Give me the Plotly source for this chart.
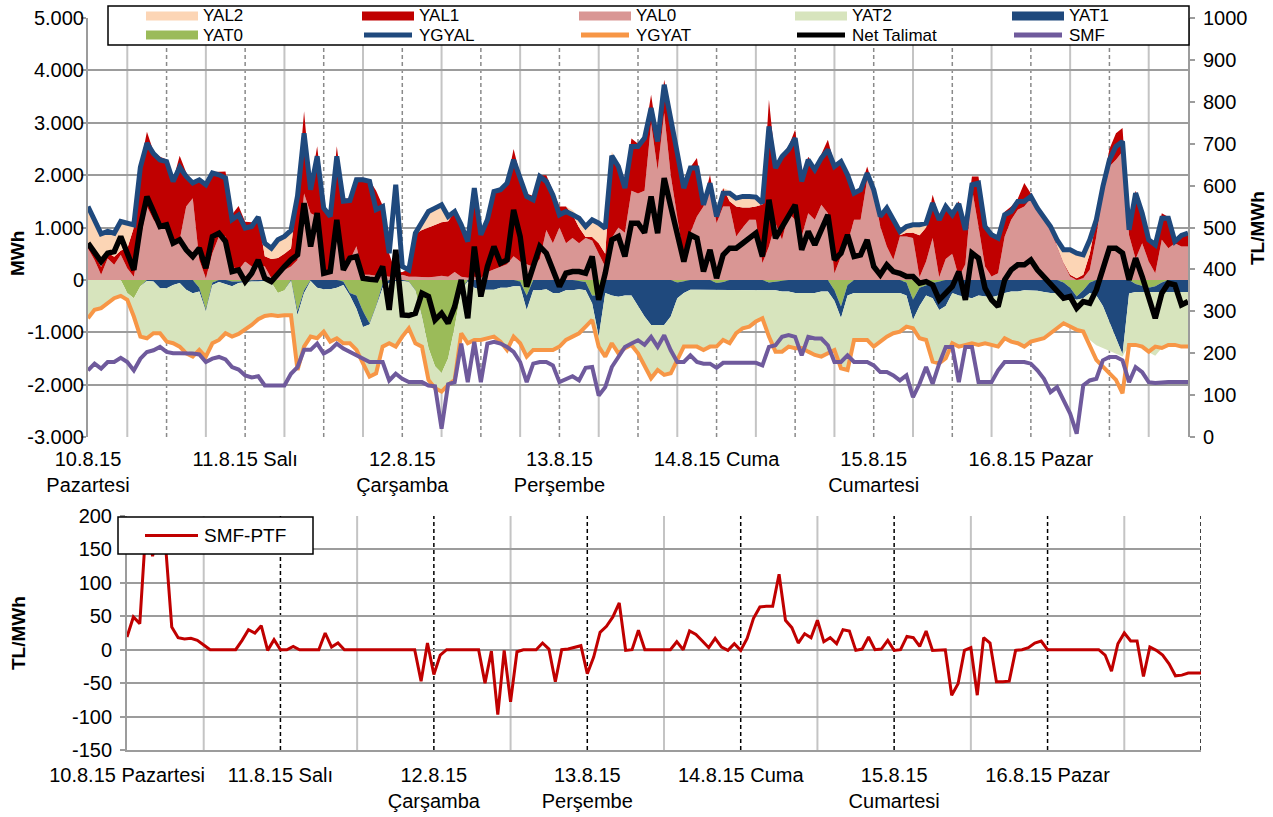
import plotly.graph_objects as go

# ---------------- DATA (hourly, 10.8.15 00:00 .. 17.8.15 00:00) ----------------
HOURS = list(range(169))

DAY_TICKS = [0, 24, 48, 72, 96, 120, 144]
TOP_DAY_LABELS = ["10.8.15<br>Pazartesi", "11.8.15 Salı", "12.8.15<br>Çarşamba",
                  "13.8.15<br>Perşembe", "14.8.15 Cuma", "15.8.15<br>Cumartesi", "16.8.15 Pazar"]
BOT_DAY_LABELS = ["10.8.15 Pazartesi", "11.8.15 Salı", "12.8.15<br>Çarşamba",
                  "13.8.15<br>Perşembe", "14.8.15 Cuma", "15.8.15<br>Cumartesi", "16.8.15 Pazar"]

MWH_TICKS = [-3000, -2000, -1000, 0, 1000, 2000, 3000, 4000, 5000]
MWH_LABELS = ["-3.000", "-2.000", "-1.000", "0", "1.000", "2.000", "3.000", "4.000", "5.000"]
TL_TICKS = [0, 100, 200, 300, 400, 500, 600, 700, 800, 900, 1000]
TL_LABELS = ["0", "100", "200", "300", "400", "500", "600", "700", "800", "900", "1000"]
DIFF_TICKS = [-150, -100, -50, 0, 50, 100, 150, 200]
DIFF_LABELS = ["-150", "-100", "-50", "0", "50", "100", "150", "200"]

YAL0 = [600, 380, 100, 410, 290, 480, 220, 60, 760, 1400,
        1150, 1020, 950, 700, 760, 1400, 1560, 380, 30, 510,
        830, 830, 255, 190, 350, 255, 290, 255, 30, 130,
        190, 255, 380, 1650, 1270, 1210, 130, 160, 760, 255,
        380, 640, 100, 100, 80, 80, 60, 50, 100, 60,
        60, 50, 50, 60, 80, 60, 150, 60, 40, 60,
        30, 150, 200, 250, 300, 450, 350, 300, 250, 400,
        950, 700, 1000, 700, 800, 700, 800, 750, 500, 250,
        800, 1000, 900, 1700, 1650, 1700, 2990, 2100, 3185, 2000,
        1200, 382, 900, 1210, 1400, 1800, 1083, 1401, 1400, 828,
        1000, 1147, 1147, 318, 637, 1083, 764, 1274, 1147, 828,
        1274, 1147, 1433, 1274, 127, 446, 700, 1147, 1147, 1911,
        1720, 1019, 637, 382, 828, 828, 800, 50, 350, 800,
        50, 400, 500, 50, 300, 1750, 1019, 255, 64, 127,
        828, 1147, 1338, 1400, 1560, 1300, 1147, 955, 637, 318,
        64, 0, 32, 191, 828, 1720, 2166, 2293, 2452, 850,
        400, 700, 350, 127, 764, 605, 700, 637, 637]

YAL1 = [100, 100, 150, 110, 150, 80, 380, 940, 1440, 1430,
        1300, 1330, 1350, 1200, 1610, 650, 320, 1540, 1800, 1550,
        1230, 1240, 995, 1220, 760, 845, 910, 195, 370, 290,
        310, 345, 1320, 1570, 530, 1340, 1290, 1100, 1790, 1295,
        1180, 1310, 1850, 1800, 1620, 1340, 440, 80, 50, 140,
        820, 900, 950, 990, 1020, 1060, 1150, 990, 700, 1690,
        830, 1000, 1490, 1490, 1580, 2050, 1650, 1350, 1350, 1600,
        1050, 1000, 400, 700, 450, 300, 20, 70, 200, 250,
        1600, 1150, 850, 1000, 950, 1050, 545, 600, 637, 1150,
        1250, 1418, 1250, 1115, 100, 206, 167, 351, 100, 572,
        380, 233, 253, 1122, 2803, 1117, 1636, 1276, 1720, 1122,
        1076, 1003, 967, 1401, 2073, 1854, 1350, 553, 603, 255,
        30, 231, 763, 768, 22, 72, 100, 800, 650, 824,
        1150, 1050, 800, 1450, 700, 225, 956, 795, 836, 693,
        472, 253, 212, 450, 90, 100, 103, 95, 13, 12,
        36, 30, 68, 309, 322, 130, 334, 507, 446, 200,
        1300, 600, 450, 573, 510, 595, 50, 243, 263]

YAL2 = [700, 670, 630, 405, 450, 555, 485, 50, 0, 0,
        0, 0, 0, 0, 0, 0, 0, 0, 0, 0,
        0, 0, 0, 0, 0, 0, 0, 270, 220, 360,
        340, 360, 0, 0, 0, 0, 0, 0, 0, 0,
        0, 0, 0, 0, 0, 0, 0, 0, 0, 0,
        12, 133, 306, 320, 333, 90, 6, 0, 0, 0,
        0, 0, 0, 0, 0, 0, 0, 0, 0, 0,
        0, 0, 0, 0, 80, 200, 230, 330, 400, 500,
        50, 16, 0, 0, 0, 0, 0, 0, 0, 0,
        0, 0, 0, 0, 0, 0, 0, 0, 200, 200,
        240, 260, 200, 30, 0, 0, 0, 0, 0, 0,
        0, 0, 0, 0, 0, 0, 0, 0, 0, 0,
        0, 0, 0, 0, 74, 119, 151, 201, 83, 0,
        0, 0, 0, 0, 0, 0, 0, 0, 0, 0,
        0, 0, 0, 0, 0, 0, 0, 0, 114, 243,
        473, 480, 378, 264, 0, 0, 0, 0, 0, 0,
        0, 0, 0, 0, 0, 0, 0, 0, 0]

YAT0 = [0, 0, 0, 0, 0, 0, -250, -350, -120, 0,
        0, 0, 0, 0, 0, 0, 0, -150, -570, -50,
        0, 0, -30, -30, -20, 0, 0, 0, -50, -250,
        -200, 0, -600, -200, 0, 0, 0, 0, 0, -30,
        -250, -300, -600, -830, -500, -80, 0, 0, 0, -30,
        -200, -700, -1300, -1650, -1780, -1500, -900, -200, 0, 0,
        0, 0, 0, 0, 0, 0, -30, -300, 0, 0,
        0, 0, 0, 0, 0, -20, -40, -300, -300, 0,
        0, 0, 0, 0, 0, 0, 0, 0, 0, 0,
        -50, -30, 0, 0, 0, 0, -60, -40, 0, 0,
        0, 0, 0, 0, -50, -30, -20, 0, 0, 0,
        0, 0, 0, 0, -200, -510, -100, 0, 0, 0,
        0, 0, 0, 0, 0, -50, -380, -150, -100, -60,
        -30, 0, 0, 0, 0, 0, 0, 0, 0, 0,
        0, 0, 0, 0, 0, 0, 0, 0, 0, -50,
        -150, -318, -200, -50, 0, 0, 0, 0, 0, 0,
        -80, -120, -150, -120, -50, 0, 0, 0, 0]

YAT1 = [0, 0, 0, 0, 0, 0, 0, 0, 0, -20,
        -30, -160, -160, -100, -60, -190, -255, -73, -30, -50,
        -40, -80, -90, -30, -20, -30, -30, -20, 0, 0,
        0, -20, -70, -50, -20, -150, -180, -180, -150, -70,
        -50, -250, -300, -20, -20, -70, -60, -20, -20, -10,
        -10, -10, 0, 0, 0, 0, 0, 0, -30, -150,
        -190, -190, -190, -150, -150, -120, -90, -273, -200, -200,
        -180, -250, -250, -200, -200, -160, -160, -150, -783, -250,
        -300, -320, -300, -300, -500, -700, -860, -860, -860, -700,
        -300, -220, -190, -190, -190, -200, -140, -160, -200, -200,
        -200, -200, -200, -200, -150, -170, -200, -220, -250, -250,
        -250, -250, -220, -220, -200, -220, -200, -250, -250, -250,
        -250, -250, -250, -250, -250, -250, -380, -350, -200, -290,
        -543, -500, -250, -300, -318, -350, -300, -320, -330, -300,
        -250, -220, -220, -200, -200, -210, -230, -250, -250, -250,
        -200, -62, -150, -200, -300, -500, -800, -1100, -1420, -260,
        -150, -110, -80, -110, -180, -230, -230, -230, -230]

YAT2 = [-700, -560, -540, -450, -350, -310, -150, -350, -930, -1080,
        -1020, -890, -990, -1100, -1190, -1160, -1145, -1077, -800, -1100,
        -1080, -920, -930, -960, -910, -820, -720, -670, -620, -440,
        -480, -660, -980, -1000, -1060, -950, -810, -970, -950, -1100,
        -900, -780, -700, -950, -1230, -1100, -1140, -1230, -1060, -910,
        -990, -560, -600, -400, -340, -500, -1000, -830, -1170, -1000,
        -960, -910, -890, -1020, -1170, -960, -1080, -877, -1130, -1130,
        -1150, -1080, -1020, -950, -880, -840, -700, -330, -167, -1150,
        -900, -1060, -1000, -940, -900, -950, -990, -860, -940, -1080,
        -1170, -1020, -1080, -1080, -1140, -1070, -1070, -950, -1000, -820,
        -720, -690, -600, -530, -880, -1150, -1130, -1050, -1050, -1050,
        -1110, -1170, -1230, -1180, -930, -920, -1400, -900, -900, -900,
        -1020, -920, -830, -770, -740, -600, -170, -600, -850, -1200,
        -1007, -980, -950, -960, -922, -850, -940, -880, -910, -970,
        -860, -950, -980, -1070, -970, -930, -880, -760, -670, -530,
        -540, -570, -630, -900, -950, -800, -550, -300, -45, -980,
        -1010, -1040, -1150, -1220, -1070, -1010, -1010, -1040, -1040]

YGYAL = [1400, 1150, 880, 925, 890, 1115, 1085, 1050, 2150, 2610,
         2410, 2290, 2260, 1880, 2150, 1975, 1850, 1910, 1815, 2040,
         2005, 1945, 1150, 1240, 990, 1020, 1200, 700, 605, 765,
         830, 945, 1600, 2800, 1720, 2360, 1370, 1210, 2360, 1500,
         1515, 1910, 1910, 1880, 1340, 1400, 510, 1815, 255, 190,
         890, 1083, 1306, 1370, 1433, 1210, 1306, 1051, 732, 1752,
         860, 1147, 1688, 1720, 1847, 2293, 1975, 1592, 1529, 1975,
         1879, 1624, 1242, 1306, 1242, 1178, 1019, 1147, 1083, 987,
         2369, 2166, 1752, 2548, 2548, 2707, 3280, 2643, 3727, 3121,
         2420, 1752, 2134, 2134, 1433, 1847, 1210, 1656, 1656, 1561,
         1593, 1593, 1580, 1465, 2930, 2134, 2357, 2484, 2707, 1879,
         2293, 2102, 2325, 2484, 2166, 2261, 2006, 1656, 1720, 2038,
         1720, 1210, 1370, 1147, 924, 1019, 1051, 1051, 1083, 1465,
         1147, 1401, 1242, 1452, 955, 1815, 1847, 1019, 860, 796,
         1242, 1306, 1497, 1500, 1593, 1370, 1210, 1019, 764, 573,
         573, 510, 478, 764, 1147, 1784, 2293, 2548, 2643, 955,
         1656, 1274, 764, 669, 1178, 1178, 733, 850, 892]

YGYAT = [-733, -573, -541, -446, -350, -306, -382, -700, -1083, -1115,
         -1019, -1019, -1178, -1210, -1274, -1401, -1465, -1338, -1465, -1210,
         -1147, -1019, -1083, -1032, -955, -860, -752, -688, -669, -688,
         -675, -675, -1720, -1274, -1083, -1115, -987, -1178, -1115, -1210,
         -1210, -1338, -1593, -1847, -1784, -1274, -1210, -1274, -1083, -924,
         -1210, -1274, -1911, -2070, -2134, -2006, -1911, -1019, -1210, -1147,
         -1147, -1115, -1083, -1178, -1338, -1083, -1210, -1465, -1338, -1338,
         -1338, -1338, -1274, -1147, -1083, -1019, -892, -764, -1274, -1465,
         -1210, -1401, -1306, -1242, -1401, -1656, -1879, -1720, -1815, -1784,
         -1529, -1274, -1274, -1274, -1338, -1274, -1274, -1147, -1210, -1019,
         -924, -892, -796, -733, -1083, -1370, -1370, -1274, -1306, -1300,
         -1370, -1433, -1465, -1401, -1338, -1688, -1720, -1147, -1147, -1147,
         -1274, -1178, -1083, -1019, -987, -892, -924, -1115, -1147, -1561,
         -1593, -1497, -1210, -1274, -1242, -1210, -1242, -1210, -1242, -1274,
         -1115, -1178, -1210, -1274, -1178, -1147, -1115, -1019, -924, -828,
         -892, -955, -987, -1274, -1529, -1656, -1784, -1911, -2166, -1242,
         -1242, -1274, -1370, -1274, -1300, -1242, -1242, -1274, -1274]

NET_TALIMAT = [700, 540, 350, 510, 540, 828, 510, 190, 1020, 1590,
               1306, 1019, 1051, 700, 764, 573, 446, 605, 223, 828,
               892, 733, 159, 191, -32, 127, 382, 32, -32, 127,
               255, 382, 478, 1465, 637, 1274, 127, 159, 1147, 191,
               414, 446, 32, 13, 0, 255, -573, 573, -669, -680,
               -637, -255, -318, -764, -637, -828, -510, 0, -733, 637,
               -318, 255, 637, 318, 382, 1338, 828, -127, 255, 637,
               510, 159, -127, 127, 159, 159, 127, 446, -382, 127,
               764, 828, 446, 1083, 1083, 900, 1593, 892, 1943, 1401,
               828, 350, 860, 796, 159, 573, 32, 478, 605, 605,
               700, 796, 892, 446, 1529, 796, 1019, 1242, 1433, 573,
               924, 669, 955, 1242, 382, 510, 860, 446, 478, 764,
               255, 96, 287, 159, 127, 64, 64, -64, -32, -96,
               -382, -255, -127, 159, -382, 510, 414, -159, -382, -510,
               0, 191, 287, 287, 382, 191, 64, -64, -223, -350,
               -318, -541, -414, -446, -191, 255, 605, 605, 510, 0,
               414, 64, -318, -733, -255, -64, -96, -478, -414]

SMF = [159, 175, 163, 179, 179, 189, 179, 159, 187, 203,
       207, 215, 203, 200, 200, 200, 199, 197, 179, 187,
       191, 185, 167, 161, 147, 142, 145, 123, 123, 123,
       123, 151, 167, 208, 208, 223, 199, 208, 223, 211,
       203, 197, 187, 179, 179, 179, 135, 151, 139, 131,
       131, 131, 123, 121, 20, 126, 131, 223, 131, 227,
       131, 223, 227, 223, 215, 203, 179, 131, 175, 179,
       179, 171, 131, 139, 145, 135, 165, 167, 99, 119,
       167, 191, 215, 223, 231, 220, 239, 215, 243, 207,
       179, 179, 195, 179, 175, 175, 165, 177, 177, 177,
       177, 177, 177, 171, 215, 219, 239, 243, 239, 195,
       239, 235, 235, 219, 179, 179, 195, 179, 179, 179,
       171, 155, 155, 147, 135, 147, 95, 127, 167, 127,
       175, 215, 215, 131, 215, 215, 131, 131, 131, 159,
       179, 179, 179, 179, 175, 159, 139, 107, 119, 88,
       56, 8, 123, 135, 139, 183, 191, 191, 183, 131,
       167, 155, 131, 129, 131, 131, 131, 131, 131]

SMF_PTF = [19, 49, 39, 190, 140, 185, 160, 34, 18, 16,
           17, 14, 7, 0, 0, 0, 0, 0, 14, 30,
           25, 36, -1, 15, 0, 0, 5, 0, 0, 0,
           0, 25, 4, 10, 0, 0, 0, 0, 0, 0,
           0, 0, 0, 0, 0, 0, -47, 10, -37, -8,
           0, 0, 0, 0, 0, 0, -50, -2, -97, -1,
           -78, -3, 0, 0, 0, 10, 1, -48, 0, 1,
           4, 6, -36, -11, 26, 35, 49, 70, -1, 0,
           29, 0, 0, 0, 0, 0, 12, 0, 28, 23,
           13, 3, 17, 4, -1, 9, -1, 17, 47, 64,
           65, 65, 113, 44, 33, 10, 24, 18, 44, 12,
           18, 9, 30, 28, -1, 1, 19, 0, 1, 14,
           -1, 0, 20, 18, 5, 28, -1, 0, 0, -68,
           -51, -1, 3, -68, 18, 10, -48, -48, -47, -1,
           0, 3, 10, 13, 0, 0, 0, 0, 0, 0,
           0, 0, 0, -8, -32, 9, 25, 13, 13, -40,
           4, -1, -8, -21, -39, -38, -35, -35, -35]

for _s in (YAL0, YAL1, YAL2, YAT0, YAT1, YAT2, YGYAL, YGYAT, NET_TALIMAT, SMF, SMF_PTF):
    assert len(_s) == len(HOURS), len(_s)

# ---------------- STYLE ----------------
W, H = 1273, 817
FONT = "Liberation Sans, Arial, sans-serif"
C = {
    "YAL2": "#FCD5B5", "YAL1": "#C00000", "YAL0": "#D99694",
    "YAT2": "#D7E4BD", "YAT1": "#1F497D", "YAT0": "#9BBB59",
    "YGYAL": "#1F497D", "YGYAT": "#F79646", "Net Talimat": "#000000",
    "SMF": "#6F5A9C", "SMF-PTF": "#C00000",
}
GRID = "#9C9C9C"
LIGHT = "#C4C4C4"


def fx(p):
    return p / W


def fy(p):
    return 1 - p / H


fig = go.Figure()

# stacked areas
for name, vals, grp in [("YAL0", YAL0, "pos"), ("YAL1", YAL1, "pos"), ("YAL2", YAL2, "pos"),
                        ("YAT0", YAT0, "neg"), ("YAT1", YAT1, "neg"), ("YAT2", YAT2, "neg")]:
    fig.add_trace(go.Scatter(x=HOURS, y=vals, name=name, mode="lines", stackgroup=grp,
                             line=dict(width=0, color=C[name]), fillcolor=C[name],
                             xaxis="x", yaxis="y", hoverinfo="skip", showlegend=False))

# lines on MWh axis
for name, vals, w in [("YGYAL", YGYAL, 5), ("YGYAT", YGYAT, 4), ("Net Talimat", NET_TALIMAT, 5.5)]:
    fig.add_trace(go.Scatter(x=HOURS, y=vals, name=name, mode="lines",
                             line=dict(width=w, color=C[name]),
                             xaxis="x", yaxis="y", hoverinfo="skip", showlegend=False))

# SMF on TL/MWh axis
fig.add_trace(go.Scatter(x=HOURS, y=SMF, name="SMF", mode="lines",
                         line=dict(width=4, color=C["SMF"]),
                         xaxis="x", yaxis="y2", hoverinfo="skip", showlegend=False))

# bottom chart
fig.add_trace(go.Scatter(x=HOURS, y=SMF_PTF, name="SMF-PTF", mode="lines",
                         line=dict(width=3, color=C["SMF-PTF"]),
                         xaxis="x2", yaxis="y3", hoverinfo="skip", showlegend=False))

shapes = []
# vertical grid of the top chart
for h in range(6, 168, 12):
    shapes.append(dict(type="line", xref="x", yref="y", x0=h, x1=h, y0=-3000, y1=5000,
                       line=dict(color=LIGHT, width=2), layer="below"))
for h in range(12, 168, 12):
    shapes.append(dict(type="line", xref="x", yref="y", x0=h, x1=h, y0=-3000, y1=5000,
                       line=dict(color="#8A8A8A", width=1.5, dash="4px,3px"), layer="below"))
# vertical grid of the bottom chart
for h in range(12, 168, 24):
    shapes.append(dict(type="line", xref="x2", yref="y3", x0=h, x1=h, y0=-150, y1=200,
                       line=dict(color=LIGHT, width=2), layer="below"))
for h in range(24, 169, 24):
    shapes.append(dict(type="line", xref="x2", yref="y3", x0=h, x1=h, y0=-150, y1=200,
                       line=dict(color="#000000", width=1.5, dash="4px,3px"), layer="below"))

annotations = []

# ---- top legend (manual, 5 columns x 2 rows) ----
shapes.append(dict(type="rect", xref="paper", yref="paper", x0=fx(108), x1=fx(1189),
                   y0=fy(45), y1=fy(6), fillcolor="white", line=dict(color="black", width=1.5),
                   layer="above"))
legend_rows = [
    [("YAL2", "area"), ("YAL1", "area"), ("YAL0", "area"), ("YAT2", "area"), ("YAT1", "area")],
    [("YAT0", "area"), ("YGYAL", "line"), ("YGYAT", "line"), ("Net Talimat", "line"), ("SMF", "line")],
]
col_x = [146, 362, 579, 795, 1012]
row_y = [16, 35]
for r, row in enumerate(legend_rows):
    for c, (name, kind) in enumerate(row):
        x0 = col_x[c]
        yc = row_y[r]
        if kind == "area":
            shapes.append(dict(type="rect", xref="paper", yref="paper", x0=fx(x0), x1=fx(x0 + 52),
                               y0=fy(yc + 4.5), y1=fy(yc - 4.5), fillcolor=C[name],
                               line=dict(width=0), layer="above"))
        else:
            shapes.append(dict(type="line", xref="paper", yref="paper", x0=fx(x0 + 2), x1=fx(x0 + 50),
                               y0=fy(yc), y1=fy(yc), line=dict(color=C[name], width=5),
                               layer="above"))
        annotations.append(dict(text=name, xref="paper", yref="paper", x=fx(x0 + 55), y=fy(yc),
                                xanchor="left", yanchor="middle", showarrow=False,
                                font=dict(family=FONT, size=17, color="black")))

# ---- bottom legend ----
shapes.append(dict(type="rect", xref="paper", yref="paper", x0=fx(118), x1=fx(313),
                   y0=fy(554), y1=fy(517), fillcolor="white", line=dict(color="black", width=1.5),
                   layer="above"))
shapes.append(dict(type="line", xref="paper", yref="paper", x0=fx(145), x1=fx(198),
                   y0=fy(535.5), y1=fy(535.5), line=dict(color=C["SMF-PTF"], width=3), layer="above"))
annotations.append(dict(text="SMF-PTF", xref="paper", yref="paper", x=fx(202), y=fy(535.5),
                        xanchor="left", yanchor="middle", showarrow=False,
                        font=dict(family=FONT, size=19, color="black")))

# ---- axis titles ----
for txt, px, py in [("MWh", 17, 254), ("TL/MWh", 1257, 228), ("TL/MWh", 18, 633)]:
    annotations.append(dict(text="<b>%s</b>" % txt, xref="paper", yref="paper", x=fx(px), y=fy(py),
                            xanchor="center", yanchor="middle", textangle=-90, showarrow=False,
                            font=dict(family=FONT, size=19, color="black")))

tickfont = dict(family=FONT, size=20, color="black")

fig.update_layout(
    width=W, height=H,
    margin=dict(l=0, r=0, t=0, b=0),
    paper_bgcolor="white", plot_bgcolor="white",
    showlegend=False,
    shapes=shapes, annotations=annotations,
    xaxis=dict(domain=[fx(88), fx(1188)], anchor="y", range=[0, 168],
               tickvals=DAY_TICKS, ticktext=TOP_DAY_LABELS, tickfont=tickfont,
               showgrid=False, zeroline=False, showline=False, ticks="",
               ticklabelstandoff=8, automargin=False),
    yaxis=dict(domain=[fy(437), fy(18)], anchor="x", range=[-3000, 5000],
               tickvals=MWH_TICKS, ticktext=MWH_LABELS, tickfont=tickfont,
               showgrid=True, gridcolor=GRID, gridwidth=2, zeroline=False,
               showline=True, linecolor=GRID, linewidth=2,
               ticks="outside", ticklen=5, tickcolor=GRID, tickwidth=1.5,
               ticklabelstandoff=-7, automargin=False),
    yaxis2=dict(overlaying="y", anchor="x", side="right", range=[0, 1000],
                tickvals=TL_TICKS, ticktext=TL_LABELS, tickfont=tickfont,
                showgrid=False, zeroline=False, showline=True, linecolor=GRID, linewidth=2,
                ticks="outside", ticklen=5, tickcolor=GRID, tickwidth=1.5,
                ticklabelstandoff=4, automargin=False),
    xaxis2=dict(domain=[fx(127), fx(1201)], anchor="y3", range=[0, 168],
                tickvals=DAY_TICKS, ticktext=BOT_DAY_LABELS, tickfont=tickfont,
                showgrid=False, zeroline=False, showline=True, linecolor=GRID, linewidth=2,
                ticks="", ticklabelstandoff=6, automargin=False),
    yaxis3=dict(domain=[fy(750), fy(516)], anchor="x2", range=[-150, 200],
                tickvals=DIFF_TICKS, ticktext=DIFF_LABELS, tickfont=tickfont,
                showgrid=True, gridcolor=GRID, gridwidth=2, zeroline=False,
                showline=True, linecolor=GRID, linewidth=2,
                ticks="outside", ticklen=5, tickcolor=GRID, tickwidth=1.5,
                ticklabelstandoff=4, automargin=False),
)

# remove the browser's default 8px page margin so the 1273x817 figure fills the window exactly
fig.write_html("out.html", config={"displayModeBar": False},
               post_script="document.body.style.margin='0';document.body.style.overflow='hidden';")
